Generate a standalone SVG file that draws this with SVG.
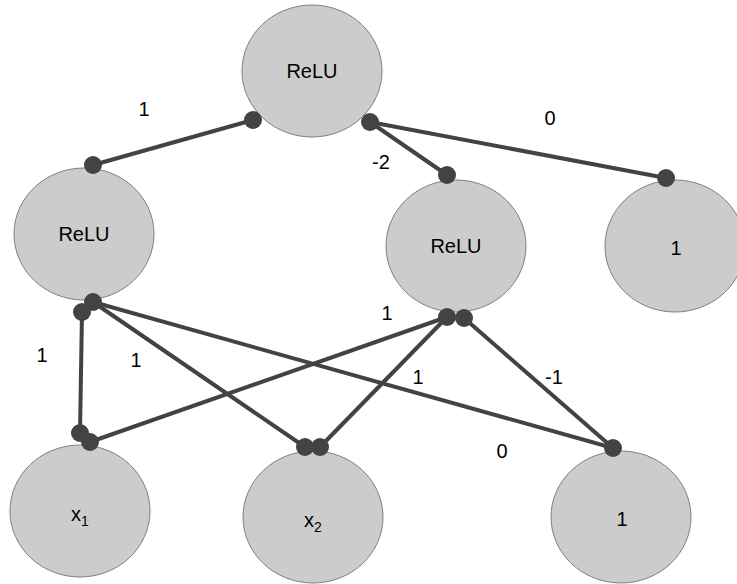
<svg xmlns="http://www.w3.org/2000/svg" width="737" height="584" viewBox="0 0 737 584">
  <style>
    .node { fill: #cccccc; stroke: #808080; stroke-width: 1; }
    .edge { stroke: #434343; stroke-width: 4; fill: none; stroke-linecap: round; }
    .dot { fill: #434343; }
    text { font-family: "Liberation Sans", Arial, sans-serif; font-size: 20px; fill: #000; }
    .lbl { text-anchor: middle; dominant-baseline: central; }
    .sub { font-size: 14px; }
  </style>
  <rect width="737" height="584" fill="#ffffff"/>

  <!-- connectors -->
  <g id="edges">
    <line class="edge" x1="253" y1="120" x2="93" y2="165"/>
    <line class="edge" x1="370" y1="122" x2="447" y2="175"/>
    <line class="edge" x1="370" y1="122" x2="666" y2="178"/>
    <line class="edge" x1="82" y1="312" x2="80" y2="433"/>
    <line class="edge" x1="93" y1="302" x2="305" y2="447"/>
    <line class="edge" x1="93" y1="302" x2="613" y2="448"/>
    <line class="edge" x1="447" y1="317" x2="90" y2="442"/>
    <line class="edge" x1="447" y1="317" x2="320" y2="447"/>
    <line class="edge" x1="464" y1="318" x2="613" y2="448"/>
    <g id="edge-labels">
      <text class="lbl" x="144" y="109">1</text>
      <text class="lbl" x="550" y="118">0</text>
      <text class="lbl" x="381" y="162">-2</text>
      <text class="lbl" x="42" y="355">1</text>
      <text class="lbl" x="136" y="360">1</text>
      <text class="lbl" x="387" y="313">1</text>
      <text class="lbl" x="418" y="377">1</text>
      <text class="lbl" x="554" y="377">-1</text>
      <text class="lbl" x="502" y="451">0</text>
    </g>
  </g>

  <!-- nodes -->
  <g id="relu-top">
    <ellipse class="node" cx="312" cy="71" rx="70" ry="66"/>
    <text class="lbl" x="312" y="71">ReLU</text>
  </g>
  <g id="relu-left">
    <ellipse class="node" cx="84" cy="234" rx="70" ry="66"/>
    <text class="lbl" x="84" y="234">ReLU</text>
  </g>
  <g id="relu-mid">
    <ellipse class="node" cx="456" cy="246" rx="70" ry="66"/>
    <text class="lbl" x="456" y="246">ReLU</text>
  </g>
  <g id="bias-top">
    <ellipse class="node" cx="675" cy="246" rx="70" ry="66"/>
    <text class="lbl" x="676" y="248">1</text>
  </g>
  <g id="x1">
    <ellipse class="node" cx="80" cy="511" rx="70" ry="66"/>
    <text class="lbl" x="80" y="514">x<tspan class="sub" dy="7">1</tspan></text>
  </g>
  <g id="x2">
    <ellipse class="node" cx="313" cy="517" rx="70" ry="66"/>
    <text class="lbl" x="313" y="520">x<tspan class="sub" dy="7">2</tspan></text>
  </g>
  <g id="bias-bottom">
    <ellipse class="node" cx="621" cy="517" rx="70" ry="66"/>
    <text class="lbl" x="622" y="519">1</text>
  </g>

  <!-- connector end dots -->
  <g id="ports">
    <circle class="dot" cx="253" cy="120" r="9"/>
    <circle class="dot" cx="370" cy="122" r="9"/>
    <circle class="dot" cx="93" cy="165" r="9"/>
    <circle class="dot" cx="447" cy="175" r="9"/>
    <circle class="dot" cx="666" cy="178" r="9"/>
    <circle class="dot" cx="93" cy="302" r="9"/>
    <circle class="dot" cx="82" cy="312" r="9"/>
    <circle class="dot" cx="447" cy="317" r="9"/>
    <circle class="dot" cx="464" cy="318" r="9"/>
    <circle class="dot" cx="80" cy="433" r="9"/>
    <circle class="dot" cx="90" cy="442" r="9"/>
    <circle class="dot" cx="305" cy="447" r="9"/>
    <circle class="dot" cx="320" cy="447" r="9"/>
    <circle class="dot" cx="613" cy="448" r="9"/>
  </g>
</svg>
